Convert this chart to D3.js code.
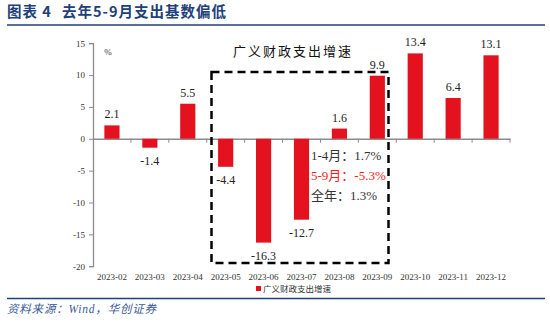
<!DOCTYPE html>
<html><head><meta charset="utf-8">
<script src="https://cdn.jsdelivr.net/npm/d3@7"></script>
<style>
body{margin:0;background:#fff;}
svg{display:block;}
</style></head>
<body><svg id="c" width="550" height="323"></svg>
<script>
const categories = ["2023-02","2023-03","2023-04","2023-05","2023-06","2023-07","2023-08","2023-09","2023-10","2023-11","2023-12"];
const values = [2.1,-1.4,5.5,-4.4,-16.3,-12.7,1.6,9.9,13.4,6.4,13.1];
const yTicks = [15,10,5,0,-5,-10,-15,-20];
const seriesName = "广义财政支出增速";
const notes = [{t:"1-4月：1.7%",c:"#333"},{t:"5-9月：-5.3%",c:"#ff1a1a"},{t:"全年：1.3%",c:"#333"}];

const svg = d3.select("#c");
const serif = "'Liberation Serif','Times New Roman',serif";
const cjk = "'Noto Sans CJK SC','Noto Sans',sans-serif";
const barColor = "#e3121e";
const axisColor = "#8c8c8c";

// header
svg.append("text").attr("x",7).attr("y",17).attr("fill","#22407a")
  .attr("font-family",cjk).attr("font-weight","bold").attr("font-size",14.5)
  .attr("letter-spacing",1).text("图表 4");
svg.append("text").attr("x",62).attr("y",17).attr("fill","#22407a")
  .attr("font-family",cjk).attr("font-weight","bold").attr("font-size",14.5)
  .attr("letter-spacing",1).text("去年5-9月支出基数偏低");
svg.append("line").attr("x1",7).attr("x2",545).attr("y1",25).attr("y2",25)
  .attr("stroke","#22407a").attr("stroke-width",1.6);
svg.append("line").attr("x1",7).attr("x2",545).attr("y1",298.5).attr("y2",298.5)
  .attr("stroke","#22407a").attr("stroke-width",1.6);
svg.append("text").attr("x",7).attr("y",313).attr("fill","#3a5a9a")
  .attr("font-family","'Liberation Serif','Noto Sans CJK SC',serif").attr("font-style","italic").attr("font-size",11.5)
  .attr("letter-spacing",0.8).text("资料来源：Wind，华创证券");

const x = d3.scaleBand().domain(categories).range([93,510]);
const y = d3.scaleLinear().domain([-20,15]).range([266.2,43.2]);

// y axis
const ya = svg.append("g").attr("transform","translate(93,0)")
  .call(d3.axisLeft(y).tickValues(yTicks).tickSize(4).tickFormat(d=>d));
ya.select(".domain").attr("stroke",axisColor).attr("stroke-width",1.3);
ya.selectAll(".tick line").attr("stroke",axisColor);
ya.selectAll(".tick text").attr("font-family",serif).attr("font-size",9).attr("fill","#333").attr("x",-8);

// x axis at zero
const xa = svg.append("g").attr("transform",`translate(0,${y(0)})`)
  .call(d3.axisBottom(x).tickSize(0).tickFormat(""));
xa.select(".domain").attr("stroke",axisColor).attr("stroke-width",1.3);
xa.selectAll(".sep").data(categories).enter().append("line")
  .attr("x1",d=>x(d)+x.bandwidth()).attr("x2",d=>x(d)+x.bandwidth())
  .attr("y1",0).attr("y2",4).attr("stroke",axisColor);

// bottom labels
svg.append("g").selectAll("text").data(categories).enter().append("text")
  .attr("x",d=>x(d)+x.bandwidth()/2).attr("y",280).attr("text-anchor","middle")
  .attr("font-family",serif).attr("font-size",9).attr("fill","#333").text(d=>d);

// % label
svg.append("text").attr("x",108).attr("y",55).attr("text-anchor","middle")
  .attr("font-family",serif).attr("font-size",9).attr("fill","#333").text("%");

// bars
const bw = x.bandwidth()*0.4;
svg.append("g").selectAll("rect").data(values).enter().append("rect")
  .attr("x",(d,i)=>x(categories[i])+x.bandwidth()/2-bw/2)
  .attr("y",d=>y(Math.max(0,d))).attr("width",bw)
  .attr("height",d=>Math.abs(y(d)-y(0))).attr("fill",barColor);

// value labels
svg.append("g").selectAll("text").data(values).enter().append("text")
  .attr("x",(d,i)=>x(categories[i])+x.bandwidth()/2)
  .attr("y",d=>d>=0? y(d)-7 : y(d)+17).attr("text-anchor","middle")
  .attr("font-family",serif).attr("font-size",12).attr("fill","#222").text(d=>d.toFixed(1));

// chart title
svg.append("text").attr("x",293).attr("y",56).attr("text-anchor","middle")
  .attr("font-family",cjk).attr("font-size",13).attr("letter-spacing",2).attr("fill","#111")
  .text(seriesName);

// dashed box
svg.append("rect").attr("x",211.5).attr("y",72).attr("width",177).attr("height",191)
  .attr("fill","none").attr("stroke","#000").attr("stroke-width",2.5).attr("stroke-dasharray","8,5");

// annotations
svg.append("g").selectAll("text").data(notes).enter().append("text")
  .attr("x",311).attr("y",(d,i)=>160+i*20)
  .attr("font-family","'Liberation Serif','Noto Sans CJK SC',serif").attr("font-size",13)
  .attr("fill",d=>d.c).text(d=>d.t);

// legend
svg.append("rect").attr("x",256).attr("y",286).attr("width",5).attr("height",5).attr("fill",barColor);
svg.append("text").attr("x",263).attr("y",291.5).attr("font-family",cjk).attr("font-size",8.5)
  .attr("fill","#333").text(seriesName);
</script></body></html>
